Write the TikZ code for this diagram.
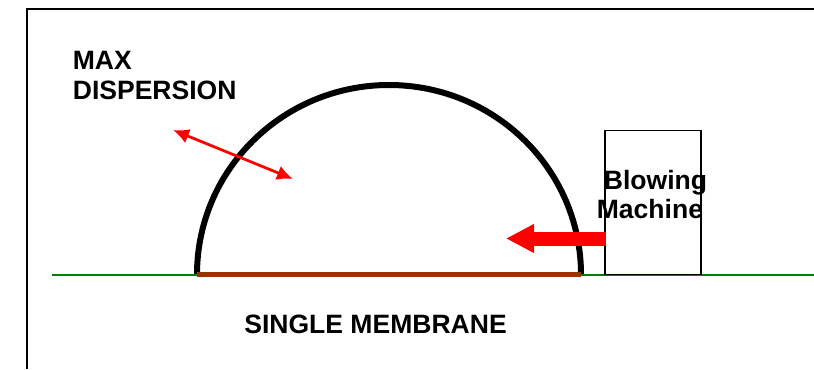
\documentclass[tikz,border=0pt]{standalone}
\usepackage{fontspec}
\setmainfont{Liberation Sans}
\usepackage{xcolor}
\usetikzlibrary{arrows.meta,positioning}
\definecolor{membrane}{HTML}{993300}
\definecolor{ground}{HTML}{008000}

\begin{document}
\begin{tikzpicture}[>=Latex,
    label/.style={font=\fontsize{15.1}{17.2}\selectfont\bfseries,inner sep=0pt,anchor=base west},
    machinebox/.style={draw,line width=0.03cm,minimum width=1.92cm,minimum height=2.88cm,inner sep=0pt}]
\useasboundingbox (0,0) rectangle (16.28,7.38);

% frame
\coordinate (frameR) at (16.28,7.2);
\coordinate (frameC) at (0.54,7.2);
\coordinate (frameB) at (0.54,0);
\draw[line width=0.045cm] (frameR) -- (frameC) -- (frameB);

% dome and ground
\coordinate (groundL) at (1.04,1.89);
\coordinate (groundR) at (16.28,1.89);
\coordinate (domeL) at (3.94,1.89);
\coordinate (domeR) at (11.62,1.89);
\draw[line width=0.12cm] (domeL) arc[start angle=180,end angle=0,x radius=3.84,y radius=3.79];
\draw[ground,line width=0.04cm] (groundL) -- (groundR);
\draw[membrane,line width=0.11cm] (domeL) -- (domeR);

\node[machinebox] (machine) at (13.06,3.33) {};

% arrows
\coordinate (blowTail) at (12.12,2.61);
\coordinate (blowTip) at (10.12,2.61);
\draw[red,line width=0.28cm,-{Triangle[length=0.56cm,width=0.54cm]}] (blowTail) -- (blowTip);
\coordinate (dispA) at (3.46,4.78);
\coordinate (dispB) at (5.86,3.80);
\draw[red,line width=0.055cm,{Latex[length=0.32cm,width=0.3cm]}-{Latex[length=0.32cm,width=0.3cm]}] (dispA) -- (dispB);

% labels
\node[label] (max) at (1.45,6.0) {MAX};
\node[label] (dispersion) at (1.45,5.4) {DISPERSION};
\node[label] (blowing) at (12.07,3.6) {Blowing};
\node[label] (mach) at (11.93,3.02) {Machine};
\node[label] (single) at (4.88,0.72) {SINGLE MEMBRANE};
\end{tikzpicture}
\end{document}
